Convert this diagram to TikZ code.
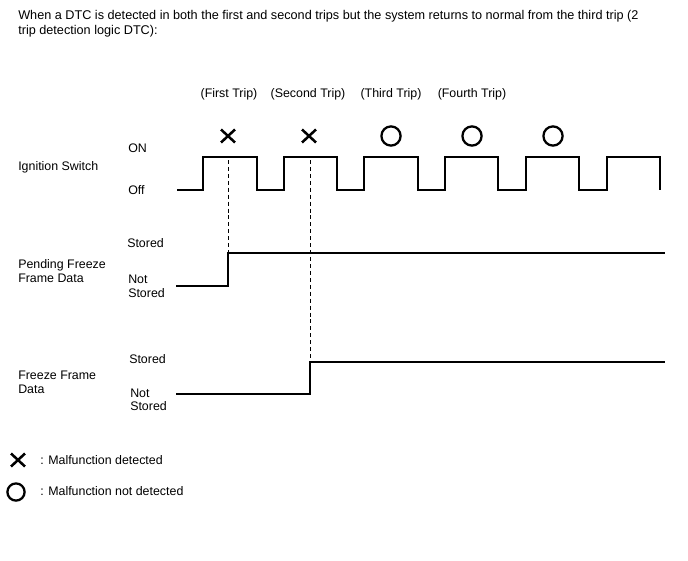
\documentclass[tikz,border=0pt]{standalone}
\usepackage{fontspec}
\setmainfont{Liberation Sans}
\begin{document}
\begin{tikzpicture}[x=0.75pt,y=-0.75pt,
  lbl/.style={anchor=base west,inner sep=0pt,font=\fontsize{9.3}{10.5}\selectfont},
  ttl/.style={anchor=base west,inner sep=0pt,font=\fontsize{9.5}{10.5}\selectfont},
  trip/.style={anchor=base,inner sep=0pt,font=\fontsize{9.3}{10.5}\selectfont},
  wave/.style={line width=1.1pt},
  guide/.style={line width=0.7pt,dash pattern=on 3pt off 2.2pt},
  xmark/.style={line width=1.9pt},
  omark/.style={line width=1.7pt}]
\useasboundingbox (0,0) rectangle (688,560);
% title
\node[ttl] (t1) at (18,20) {When a DTC is detected in both the first and second trips but the system returns to normal from the third trip (2};
\node[ttl] (t2) at (18,35) {trip detection logic DTC):};
% trip labels
\node[trip] (tr1) at (229,98) {(First Trip)};
\node[trip] (tr2) at (308,98) {(Second Trip)};
\node[trip] (tr3) at (391,98) {(Third Trip)};
\node[trip] (tr4) at (472,98) {(Fourth Trip)};
% marks
\foreach \cx/\n in {228/x1,309/x2}{
  \coordinate (\n) at (\cx,136);
  \draw[xmark] ([shift={(-7,-6.5)}]\n) -- ([shift={(7,6.5)}]\n);
  \draw[xmark] ([shift={(-7,6.5)}]\n) -- ([shift={(7,-6.5)}]\n);
}
\foreach \cx/\n in {391/o1,472/o2,553/o3}{
  \coordinate (\n) at (\cx,136);
  \draw[omark] (\n) circle (9.6);
}
% left labels
\node[lbl] (ig) at (18,170) {Ignition Switch};
\node[lbl] (on) at (128,152) {ON};
\node[lbl] (off) at (128,194) {Off};
\node[lbl] (pf1) at (18,268) {Pending Freeze};
\node[lbl] (pf2) at (18,282) {Frame Data};
\node[lbl] (ps) at (127,247) {Stored};
\node[lbl] (pn1) at (128,283) {Not};
\node[lbl] (pn2) at (128,297) {Stored};
\node[lbl] (ff1) at (18,379) {Freeze Frame};
\node[lbl] (ff2) at (18,393) {Data};
\node[lbl] (fs) at (129,363) {Stored};
\node[lbl] (fn1) at (130,397) {Not};
\node[lbl] (fn2) at (130,410) {Stored};
% ignition waveform
\coordinate (w0) at (177,190);
\draw[wave] (w0) -- (203,190) -- (203,157) -- (257,157) -- (257,190)
  -- (284,190) -- (284,157) -- (337,157) -- (337,190)
  -- (364,190) -- (364,157) -- (418,157) -- (418,190)
  -- (445,190) -- (445,157) -- (498,157) -- (498,190)
  -- (526,190) -- (526,157) -- (579,157) -- (579,190)
  -- (607,190) -- (607,157) -- (660,157) -- (660,190);
% pending
\coordinate (p0) at (176,286);
\coordinate (p1) at (228,286);
\coordinate (p2) at (228,253);
\coordinate (p3) at (665,253);
\draw[wave] (p0) -- (p1) -- (p2) -- (p3);
% freeze
\coordinate (f0) at (176,394);
\coordinate (f1) at (310,394);
\coordinate (f2) at (310,362);
\coordinate (f3) at (665,362);
\draw[wave] (f0) -- (f1) -- (f2) -- (f3);
% guides
\coordinate (g1) at (228,160);
\coordinate (g2) at (310,160);
\draw[guide] (g1) -- (p2);
\draw[guide] (g2) -- (f2);
% legend
\coordinate (lx) at (18,460);
\draw[xmark] ([shift={(-7,-6.5)}]lx) -- ([shift={(7,6.5)}]lx);
\draw[xmark] ([shift={(-7,6.5)}]lx) -- ([shift={(7,-6.5)}]lx);
\coordinate (lo) at (16,492);
\draw[omark] (lo) circle (8.6);
\node[lbl] (lt1) at (40,464) {: Malfunction detected};
\node[lbl] (lt2) at (40,495) {: Malfunction not detected};
\end{tikzpicture}
\end{document}
